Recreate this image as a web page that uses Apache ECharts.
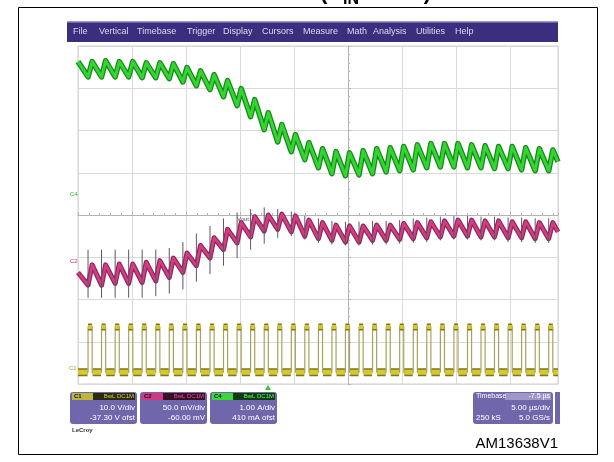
<!DOCTYPE html>
<html>
<head>
<meta charset="utf-8">
<script src="https://cdn.jsdelivr.net/npm/echarts@6/dist/echarts.min.js"></script>
<style>
html, body { margin: 0; padding: 0; background: #fff; }
#chart { width: 614px; height: 462px; }
</style>
</head>
<body>
<div id="chart"></div>
<script>
// switching edges, us from left edge of screen (5 us/div)
const pulseTimes = [0.93, 2.18, 3.44, 4.69, 5.94, 7.20, 8.45, 9.71, 10.96, 12.22,
  13.47, 14.73, 15.98, 17.24, 18.49, 19.75, 21.00, 22.26, 23.51, 24.76,
  26.02, 27.27, 28.53, 29.78, 31.04, 32.29, 33.55, 34.80, 36.06, 37.31,
  38.56, 39.82, 41.07, 42.33, 43.58];
const onTime = 0.38;
const tEnd = 44.44;

// C1 switch node (V)
const c1High = [10.8, 10.8, 10.8, 10.8, 10.8, 10.8, 10.8, 10.8, 10.8, 10.8,
  10.8, 10.8, 10.8, 10.8, 10.8, 10.8, 10.8, 10.8, 10.8, 10.8,
  10.8, 10.8, 10.8, 10.8, 10.8, 10.8, 10.8, 10.8, 10.8, 10.8,
  10.8, 10.8, 10.8, 10.8, 10.8];
const c1Low = 0.1;

// C2 output (mV)
const c2Trough = [-23, -23, -21, -21, -20, -18, -14, -8, 0, 9,
  19, 27, 34, 41, 43, 40, 35, 32, 30, 28,
  28, 30, 30, 31, 32, 33, 34, 35, 35, 34,
  34, 33, 33, 32, 32];
const c2Peak = [1, 1, 2, 2, 4, 6, 9, 15, 24, 33,
  43, 51, 58, 60, 61, 59, 54, 51, 48, 47,
  47, 48, 48, 50, 51, 52, 53, 54, 54, 53,
  53, 52, 52, 51, 51];
const c2SpikeTop = [19, 19, 19, 19, 19, 19, 21, 28, 38, 47,
  56, 63, 67, 69, 67, 64, 59, 56, 53, 52,
  52, 53, 53, 54, 56, 57, 58, 59, 59, 58,
  58, 57, 57, 56, 56];
const c2SpikeBottom = [-38, -38, -38, -38, -38, -36, -33, -28, -19, -10,
  0, 9, 19, 26, 33, 35, 31, 27, 25, 24,
  24, 25, 25, 26, 27, 28, 30, 31, 31, 30,
  30, 28, 28, 27, 27];
const c2Start = -8, c2End = 40;

// C4 inductor current (A)
const c4Trough = [2.86, 2.86, 2.86, 2.86, 2.84, 2.84, 2.82, 2.74, 2.65, 2.56,
  2.39, 2.18, 1.92, 1.61, 1.32, 1.09, 0.90, 0.71, 0.57, 0.52,
  0.54, 0.57, 0.61, 0.64, 0.66, 0.71, 0.73, 0.73, 0.71, 0.71,
  0.69, 0.69, 0.66, 0.64, 0.64];
const c4Peak = [3.22, 3.24, 3.22, 3.22, 3.19, 3.19, 3.17, 3.08, 3.00, 2.91,
  2.77, 2.58, 2.32, 2.01, 1.73, 1.49, 1.30, 1.16, 1.09, 1.06,
  1.11, 1.16, 1.18, 1.21, 1.25, 1.28, 1.28, 1.28, 1.25, 1.23,
  1.21, 1.21, 1.18, 1.16, 1.13];
const c4Start = 3.22, c4End = 0.85;

const menuItems = ["File", "Vertical", "Timebase", "Trigger", "Display", "Cursors",
  "Measure", "Math", "Analysis", "Utilities", "Help"];

// build traces
const c4Data = [[0, c4Start]];
const c2Data = [[0, c2Start]];
const spikes = [];
const c1Data = [[0, c1Low]];
const c1Base = [[0, c1Low]];
const c1Tops = [];
pulseTimes.forEach((t, i) => {
  c4Data.push([t, c4Trough[i]], [t + onTime, c4Peak[i]]);
  c2Data.push([t, c2Trough[i]], [t + onTime, c2Peak[i]]);
  spikes.push([t, c2SpikeTop[i]], [t, c2SpikeBottom[i]], [t, "-"]);
  c1Data.push([t, c1Low], [t, c1High[i]], [t + onTime, c1High[i]], [t + onTime, c1Low]);
  c1Base.push([t - 0.05, c1Low], [t, "-"], [t + onTime + 0.05, c1Low]);
  c1Tops.push([t, c1High[i]], [t + onTime, c1High[i]], [t + onTime, "-"]);
});
c4Data.push([tEnd, c4End]);
c2Data.push([tEnd, c2End]);
c1Data.push([tEnd, c1Low]);
c1Base.push([tEnd, c1Low]);

const line = (data, yIdx, color, width, z) => ({
  type: "line", data, xAxisIndex: 0, yAxisIndex: yIdx,
  showSymbol: false, symbol: "none", silent: true, z,
  connectNulls: false,
  lineStyle: { color, width, join: "round" }
});

// page decoration / scope chrome
const graphic = [];
const rect = (x, y, w, h, fill, r) =>
  graphic.push({ type: "rect", z: 50, shape: { x, y, width: w, height: h, r: r || 0 }, style: { fill } });
const text = (x, y, s, font, fill, align) =>
  graphic.push({ type: "text", z: 60, x, y, style: { text: s, font, fill, align: align || "left", verticalAlign: "middle" } });

graphic.push({ type: "rect", z: 40, shape: { x: 18.5, y: 7.5, width: 579, height: 447 },
  style: { fill: "none", stroke: "#000", lineWidth: 1 } });

// cut-off caption at the very top
text(342, -7, "(V", "bold 22px Liberation Sans", "#000", "right");
text(343, -0.5, "IN", "bold 16px Liberation Sans", "#000");
text(431, -7, " = 12 V)", "bold 22px Liberation Sans", "#000", "right");

// menu bar
rect(67, 21, 491, 21, "#3b2e7e");
rect(67, 21, 491, 1.5, "#a39bd6");
const menuX = [73, 99, 137, 187, 223, 262, 303, 347, 373, 416, 455];
menuItems.forEach((m, i) => text(menuX[i], 31.5, m, "9px Liberation Sans", "#dcdaf0"));

// trace labels on the left
text(70, 194, "C4", "6px Liberation Sans", "#2fbf2f");
text(70, 261, "C2", "6px Liberation Sans", "#c03078");
text(69, 368, "C1", "6px Liberation Sans", "#a8a030");
text(237, 219, "Vout", "6px Liberation Sans", "#555");

// trigger marker
graphic.push({ type: "polygon", z: 60, shape: { points: [[265, 390], [271, 390], [268, 385]] }, style: { fill: "#33cc33" } });

// channel boxes
function chanBox(x, tabColor, tab, barColor, barTextColor, barText, l1, l2) {
  rect(x, 392, 67, 32, "#6f66ab", 3);
  rect(x + 2, 393, 21, 7, tabColor);
  text(x + 4, 396.5, tab, "bold 6px Liberation Sans", "#111");
  rect(x + 23, 393, 42, 7, barColor);
  text(x + 64, 396.5, barText, "6px Liberation Sans", barTextColor, "right");
  text(x + 65, 408, l1, "8px Liberation Sans", "#fff", "right");
  text(x + 65, 417.5, l2, "8px Liberation Sans", "#fff", "right");
}
chanBox(70, "#bdb53c", "C1", "#2c2a10", "#d8cf3a", "BwL DC1M", "10.0 V/div", "-37.30 V ofst");
chanBox(140, "#d03884", "C2", "#3a1024", "#e8509a", "BwL DC1M", "50.0 mV/div", "-60.00 mV");
chanBox(210, "#3ad83a", "C4", "#103a10", "#5cff5c", "BwL DC1M", "1.00 A/div", "410 mA ofst");

// timebase box
rect(473, 392, 80, 32, "#6f66ab", 3);
rect(505, 393, 46, 7, "#9d98c4");
text(476, 396.5, "Timebase", "7px Liberation Sans", "#fff");
text(550, 396.5, "-7.5 µs", "7px Liberation Sans", "#fff", "right");
text(550, 408, "5.00 µs/div", "8px Liberation Sans", "#fff", "right");
text(476, 417.5, "250 kS", "8px Liberation Sans", "#fff");
text(550, 417.5, "5.0 GS/s", "8px Liberation Sans", "#fff", "right");
rect(555, 392, 5, 32, "#6f66ab");

text(72, 430, "LeCroy", "bold 6px Liberation Sans", "#333");
text(558, 444, "AM13638V1", "15px Liberation Sans", "#000", "right");

const chart = echarts.init(document.getElementById("chart"));
chart.setOption({
  animation: false,
  backgroundColor: "#fff",
  grid: {
    left: 78, top: 46, width: 480, height: 338,
    show: true, borderColor: "#cfcfcf", borderWidth: 1, backgroundColor: "#fff",
    outerBoundsMode: "none"
  },
  xAxis: [
    {
      type: "value", min: 0, max: tEnd, interval: 5,
      axisLine: { onZero: true, lineStyle: { color: "#b4b4b4" } },
      axisTick: { show: true, inside: true, length: 3, lineStyle: { color: "#b4b4b4" } },
      minorTick: { show: true, splitNumber: 5, length: 2, lineStyle: { color: "#b4b4b4" } },
      axisLabel: { show: false },
      splitLine: { show: true, lineStyle: { color: "#dadada" } }
    },
    { type: "value", min: -25, max: tEnd - 25, show: false }
  ],
  yAxis: [
    {
      type: "value", min: -4, max: 4, interval: 1,
      axisLine: { show: true, onZero: true, onZeroAxisIndex: 1, lineStyle: { color: "#b4b4b4" } },
      axisTick: { show: true, inside: true, length: 3, lineStyle: { color: "#b4b4b4" } },
      minorTick: { show: true, splitNumber: 5, length: 2, lineStyle: { color: "#b4b4b4" } },
      axisLabel: { show: false },
      splitLine: { show: true, lineStyle: { color: "#dadada" } }
    },
    { type: "value", min: -2.7, max: 77.3, show: false },
    { type: "value", min: -140, max: 260, show: false },
    { type: "value", min: -4.41, max: 3.59, show: false }
  ],
  series: [
    line(c1Data, 1, "#a8a25a", 1.2, 3),
    line(c1Base, 1, "#7d7620", 8, 4),
    line(c1Base, 1, "#d4c92e", 5, 5),
    line(c1Tops, 1, "#7d7620", 7, 4),
    line(c1Tops, 1, "#d4c92e", 4, 5),
    line(c2Data, 2, "#8c2a5c", 5, 6),
    line(c2Data, 2, "#d63c84", 2.5, 7),
    line(spikes, 2, "#5e5468", 1, 8),
    line(c4Data, 3, "#168a16", 5.5, 9),
    line(c4Data, 3, "#35d435", 3, 10)
  ],
  graphic: graphic
});
</script>
</body>
</html>
